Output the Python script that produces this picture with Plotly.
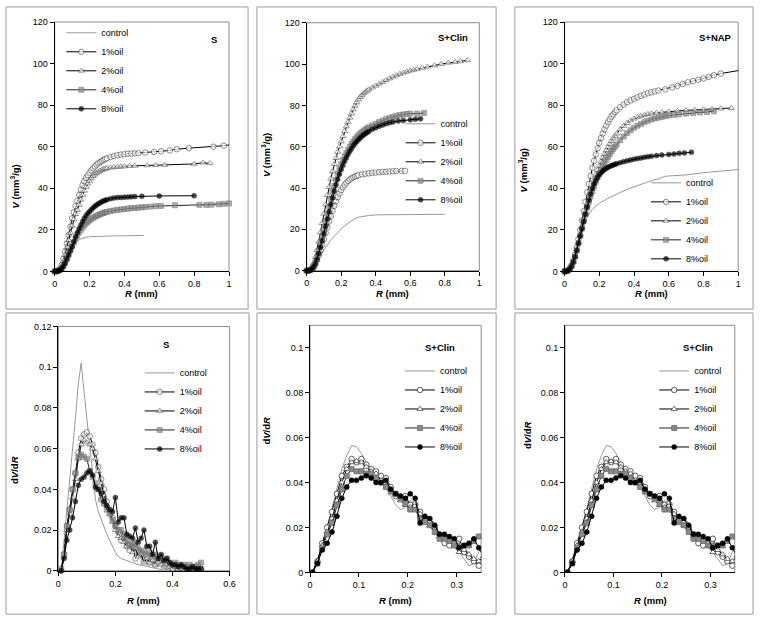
import plotly.graph_objects as go
from plotly.subplots import make_subplots

W, H = 762, 624
FONT = "Liberation Sans, Arial, sans-serif"
SERIES = ["control", "1%oil", "2%oil", "4%oil", "8%oil"]

# ---------------- Panel 1 : S  (V vs R) ----------------
S_ctrl_R = [0, 0.02, 0.04, 0.06, 0.08, 0.1, 0.12, 0.14, 0.16, 0.18, 0.2, 0.25, 0.3, 0.35, 0.4, 0.45, 0.51]
S_ctrl_V = [0, 0.2, 1.5, 4.5, 8, 11.2, 13.8, 15.3, 16.1, 16.5, 16.7, 16.9, 17, 17.1, 17.1, 17.2, 17.3]
S_1_R = [0, 0.01, 0.02, 0.03, 0.04, 0.05, 0.06, 0.07, 0.08, 0.09, 0.1, 0.11, 0.12, 0.13, 0.14, 0.15, 0.16,
         0.17, 0.18, 0.19, 0.2, 0.21, 0.22, 0.23, 0.24, 0.25, 0.26, 0.27, 0.28, 0.29, 0.3, 0.32, 0.34, 0.36,
         0.38, 0.4, 0.42, 0.44, 0.46, 0.48, 0.52, 0.57, 0.61, 0.66, 0.7, 0.77, 0.91, 0.97, 1.02]
S_1_V = [0, 0.1, 0.4, 1.2, 3, 6, 9.5, 13.5, 17.5, 21.5, 25.5, 28.5, 31.5, 34, 36.8, 39.3, 41.5, 43.4, 45,
         46.3, 47.5, 48.6, 49.6, 50.5, 51.3, 52, 52.6, 53.1, 53.6, 54, 54.4, 55, 55.5, 55.9, 56.2, 56.4,
         56.6, 56.7, 56.8, 56.9, 57.2, 57.5, 57.8, 58.2, 58.8, 59.3, 60, 60.5, 61]
S_2_R = [0, 0.01, 0.02, 0.03, 0.04, 0.05, 0.06, 0.07, 0.08, 0.09, 0.1, 0.11, 0.12, 0.13, 0.14, 0.15, 0.16,
         0.17, 0.18, 0.19, 0.2, 0.21, 0.22, 0.23, 0.24, 0.25, 0.26, 0.27, 0.28, 0.29, 0.3, 0.32, 0.34, 0.36,
         0.38, 0.4, 0.43, 0.46, 0.53, 0.58, 0.63, 0.8, 0.85, 0.89]
S_2_V = [0, 0.1, 0.3, 1, 2.5, 5, 8, 11.5, 15, 18.5, 22, 25, 27.5, 29.5, 32, 34.5, 36.8, 38.8, 40.6, 42.2,
         43.6, 44.8, 45.8, 46.6, 47.3, 47.9, 48.4, 48.8, 49.1, 49.4, 49.6, 49.9, 50.1, 50.3, 50.4, 50.5,
         50.7, 50.8, 51, 51.1, 51.2, 51.7, 52.3, 52]
S_4_R = [0, 0.01, 0.02, 0.03, 0.04, 0.05, 0.06, 0.07, 0.08, 0.09, 0.1, 0.11, 0.12, 0.13, 0.14, 0.15, 0.16,
         0.17, 0.18, 0.19, 0.2, 0.21, 0.22, 0.23, 0.24, 0.25, 0.26, 0.27, 0.28, 0.29, 0.3, 0.32, 0.34, 0.36,
         0.38, 0.4, 0.42, 0.44, 0.46, 0.48, 0.5, 0.52, 0.55, 0.58, 0.61, 0.69, 0.83, 0.87, 0.9, 0.94, 0.97, 1.0]
S_4_V = [0, 0, 0.2, 0.6, 1.3, 2.5, 4, 6, 8, 10, 12, 14, 15.8, 17.4, 18.8, 20, 21.2, 22.2, 23.1, 23.9,
         24.6, 25.2, 25.8, 26.3, 26.7, 27.1, 27.5, 27.8, 28.1, 28.4, 28.6, 29, 29.3, 29.6, 29.8, 30, 30.2,
         30.4, 30.5, 30.7, 30.8, 31, 31.2, 31.4, 31.5, 31.8, 32, 32, 32.1, 32.3, 32.5, 32.7]
S_8_R = [0, 0.01, 0.02, 0.03, 0.04, 0.05, 0.06, 0.07, 0.08, 0.09, 0.1, 0.11, 0.12, 0.13, 0.14, 0.15, 0.16,
         0.17, 0.18, 0.19, 0.2, 0.21, 0.22, 0.23, 0.24, 0.25, 0.26, 0.27, 0.28, 0.29, 0.3, 0.32, 0.34, 0.36,
         0.38, 0.4, 0.42, 0.44, 0.46, 0.5, 0.6, 0.8]
S_8_V = [0, 0, 0.2, 0.6, 1.3, 2.5, 4, 6, 8, 10, 12, 14.3, 16.5, 18.6, 20.5, 22.3, 24, 25.5, 26.8, 27.9,
         28.8, 29.7, 30.5, 31.3, 31.9, 32.5, 33, 33.5, 33.9, 34.2, 34.5, 35, 35.3, 35.5, 35.6, 35.7, 35.8,
         35.9, 36, 36.1, 36.3, 36.4]

# ---------------- Panel 2 : S+Clin (V vs R) ----------------
C_ctrl_R = [0, 0.02, 0.04, 0.06, 0.08, 0.1, 0.12, 0.14, 0.16, 0.18, 0.2, 0.22, 0.24, 0.26, 0.28, 0.3,
            0.33, 0.36, 0.4, 0.5, 0.6, 0.7, 0.8]
C_ctrl_V = [0, 0.3, 1.5, 4, 7, 10, 12.5, 14.8, 16.8, 18.6, 20.2, 21.7, 23, 24.2, 25.2, 25.9, 26.4, 26.7,
            27, 27.1, 27.2, 27.2, 27.3]
C_1_R = [0, 0.01, 0.02, 0.03, 0.04, 0.05, 0.06, 0.07, 0.08, 0.09, 0.1, 0.11, 0.12, 0.13, 0.14, 0.15, 0.16,
         0.17, 0.18, 0.19, 0.2, 0.21, 0.22, 0.23, 0.24, 0.25, 0.26, 0.27, 0.28, 0.29, 0.3, 0.32, 0.34, 0.36,
         0.38, 0.4, 0.42, 0.44, 0.46, 0.48, 0.5, 0.52, 0.55, 0.57]
C_1_V = [0, 0, 0.2, 0.7, 1.6, 3, 5, 7.3, 9.8, 12.5, 15.3, 18.2, 21, 23.8, 26.5, 29, 31.4, 33.6, 35.6,
         37.4, 39, 40.4, 41.6, 42.6, 43.4, 44.1, 44.7, 45.2, 45.6, 45.9, 46.2, 46.6, 46.9, 47.1, 47.3,
         47.5, 47.6, 47.8, 47.9, 48, 48.1, 48.2, 48.3, 48.3]
C_2_R = [0, 0.01, 0.02, 0.03, 0.04, 0.05, 0.06, 0.07, 0.08, 0.09, 0.1, 0.11, 0.12, 0.13, 0.14, 0.15, 0.16,
         0.17, 0.18, 0.19, 0.2, 0.21, 0.22, 0.23, 0.24, 0.25, 0.26, 0.27, 0.28, 0.29, 0.3, 0.31, 0.32, 0.33,
         0.34, 0.35, 0.36, 0.38, 0.4, 0.42, 0.44, 0.46, 0.48, 0.5, 0.52, 0.54, 0.56, 0.58, 0.6, 0.62, 0.64,
         0.67, 0.7, 0.74, 0.78, 0.82, 0.86, 0.89, 0.93]
C_2_V = [0, 0.1, 0.5, 1.5, 3.5, 6.5, 10, 14, 18.5, 23, 27.5, 32, 36.5, 40.5, 44.5, 48, 51.5, 54.5, 57.5,
         60, 62.5, 65, 67.5, 69.8, 72, 74, 76, 78, 79.8, 81.4, 82.8, 84, 85, 85.8, 86.5, 87.1, 87.7, 88.6,
         89.5, 90.4, 91.3, 92.2, 93, 93.8, 94.5, 95.2, 95.8, 96.3, 96.8, 97.2, 97.6, 98.2, 98.7, 99.3, 100,
         100.6, 101, 101.3, 101.8]
C_4_R = [0, 0.01, 0.02, 0.03, 0.04, 0.05, 0.06, 0.07, 0.08, 0.09, 0.1, 0.11, 0.12, 0.13, 0.14, 0.15, 0.16,
         0.17, 0.18, 0.19, 0.2, 0.21, 0.22, 0.23, 0.24, 0.25, 0.26, 0.27, 0.28, 0.29, 0.3, 0.31, 0.32, 0.33,
         0.34, 0.35, 0.36, 0.38, 0.4, 0.42, 0.44, 0.46, 0.48, 0.5, 0.52, 0.54, 0.56, 0.58, 0.6, 0.64, 0.68]
C_4_V = [0, 0.1, 0.3, 1, 2.2, 4, 6.5, 9.5, 13, 16.5, 20, 24, 27.5, 31, 34.5, 38, 41, 44, 46.8, 49.3, 51.5,
         53.5, 55.3, 57, 58.5, 60, 61.3, 62.5, 63.6, 64.6, 65.5, 66.3, 67, 67.7, 68.3, 68.9, 69.4, 70.3,
         71.1, 71.9, 72.6, 73.3, 73.9, 74.4, 74.9, 75.3, 75.6, 75.8, 76, 76, 76.3]
C_8_R = [0, 0.01, 0.02, 0.03, 0.04, 0.05, 0.06, 0.07, 0.08, 0.09, 0.1, 0.11, 0.12, 0.13, 0.14, 0.15, 0.16,
         0.17, 0.18, 0.19, 0.2, 0.21, 0.22, 0.23, 0.24, 0.25, 0.26, 0.27, 0.28, 0.29, 0.3, 0.31, 0.32, 0.33,
         0.34, 0.35, 0.36, 0.38, 0.4, 0.42, 0.44, 0.46, 0.48, 0.5, 0.53, 0.56, 0.6, 0.63, 0.66]
C_8_V = [0, 0, 0.2, 0.8, 1.8, 3.3, 5.5, 8.2, 11.3, 14.5, 18, 21.5, 25, 28.5, 32, 35.3, 38.5, 41.5, 44.2,
         46.7, 49, 51, 53, 54.7, 56.3, 57.8, 59.1, 60.4, 61.5, 62.5, 63.4, 64.2, 65, 65.7, 66.3, 66.9, 67.4,
         68.4, 69.2, 69.9, 70.5, 71.1, 71.6, 72, 72.4, 72.7, 73, 73.3, 73.5]

# ---------------- Panel 3 : S+NAP (V vs R) ----------------
N_ctrl_R = [0, 0.02, 0.04, 0.06, 0.08, 0.1, 0.12, 0.14, 0.16, 0.18, 0.2, 0.25, 0.3, 0.35, 0.4, 0.45, 0.5,
            0.55, 0.58, 0.62, 0.7, 0.8, 0.9, 1.0]
N_ctrl_V = [0, 0.4, 2.5, 7, 13, 19, 24, 27.5, 29.8, 31.4, 32.7, 35.2, 37.3, 39.1, 40.7, 42.2, 43.6, 44.8,
            45.8, 46, 46.4, 47.5, 48.3, 49]
N_1_R = [0, 0.01, 0.02, 0.03, 0.04, 0.05, 0.06, 0.07, 0.08, 0.09, 0.1, 0.11, 0.12, 0.13, 0.14, 0.15, 0.16,
         0.17, 0.18, 0.19, 0.2, 0.21, 0.22, 0.23, 0.24, 0.25, 0.26, 0.27, 0.28, 0.29, 0.3, 0.32, 0.34, 0.36,
         0.38, 0.4, 0.42, 0.44, 0.46, 0.48, 0.5, 0.52, 0.54, 0.58, 0.62, 0.65, 0.68, 0.71, 0.74, 0.77, 0.8,
         0.83, 0.86, 0.9, 1.04]
N_1_V = [0, 0.1, 0.4, 1.2, 2.8, 5, 8, 11.5, 15.5, 20, 24.5, 29, 33.5, 38, 42, 46, 49.8, 53.2, 56.3, 59.2,
         61.8, 64.2, 66.4, 68.4, 70.2, 71.8, 73.2, 74.5, 75.6, 76.6, 77.5, 79, 80.3, 81.4, 82.3, 83.1, 83.8,
         84.5, 85.1, 85.7, 86.2, 86.6, 87, 87.6, 88.5, 89.3, 90.2, 91, 91.6, 92.2, 92.8, 93.6, 94.4, 95.2,
         97.2]
N_2_R = [0, 0.01, 0.02, 0.03, 0.04, 0.05, 0.06, 0.07, 0.08, 0.09, 0.1, 0.11, 0.12, 0.13, 0.14, 0.15, 0.16,
         0.17, 0.18, 0.19, 0.2, 0.21, 0.22, 0.23, 0.24, 0.25, 0.26, 0.27, 0.28, 0.29, 0.3, 0.32, 0.34, 0.36,
         0.38, 0.4, 0.42, 0.44, 0.46, 0.48, 0.5, 0.53, 0.56, 0.6, 0.65, 0.7, 0.75, 0.8, 0.85, 0.9, 0.96]
N_2_V = [0, 0.1, 0.4, 1.2, 2.6, 4.6, 7.3, 10.5, 14, 17.7, 21.3, 25, 28.5, 32, 35.2, 38.3, 41.2, 43.9, 46.4,
         48.7, 50.8, 52.8, 54.7, 56.5, 58.2, 59.8, 61.3, 62.7, 64, 65.2, 66.3, 68.3, 70, 71.4, 72.6, 73.5,
         74.2, 74.8, 75.3, 75.7, 76, 76.3, 76.6, 76.9, 77.2, 77.5, 77.7, 77.9, 78.1, 78.3, 78.6]
N_4_R = [0, 0.01, 0.02, 0.03, 0.04, 0.05, 0.06, 0.07, 0.08, 0.09, 0.1, 0.11, 0.12, 0.13, 0.14, 0.15, 0.16,
         0.17, 0.18, 0.19, 0.2, 0.21, 0.22, 0.23, 0.24, 0.25, 0.26, 0.27, 0.28, 0.29, 0.3, 0.32, 0.34, 0.36,
         0.38, 0.4, 0.42, 0.44, 0.46, 0.48, 0.5, 0.52, 0.54, 0.56, 0.58, 0.6, 0.63, 0.66, 0.7, 0.74, 0.78,
         0.82, 0.86]
N_4_V = [0, 0.1, 0.4, 1.2, 2.6, 4.5, 7.1, 10.2, 13.6, 17.2, 20.7, 24.2, 27.5, 30.6, 33.5, 36.2, 38.7, 41,
         43.2, 45.2, 47.1, 48.9, 50.6, 52.2, 53.7, 55.1, 56.4, 57.7, 58.9, 60, 61.1, 63.1, 64.9, 66.5, 67.9,
         69.1, 70.1, 71, 71.8, 72.5, 73.1, 73.6, 74, 74.4, 74.7, 75, 75.3, 75.6, 75.9, 76.2, 76.5, 76.7, 77]
N_8_R = [0, 0.01, 0.02, 0.03, 0.04, 0.05, 0.06, 0.07, 0.08, 0.09, 0.1, 0.11, 0.12, 0.13, 0.14, 0.15, 0.16,
         0.17, 0.18, 0.19, 0.2, 0.21, 0.22, 0.23, 0.24, 0.25, 0.26, 0.27, 0.28, 0.29, 0.3, 0.32, 0.34, 0.36,
         0.38, 0.4, 0.42, 0.44, 0.46, 0.48, 0.5, 0.53, 0.56, 0.6, 0.63, 0.66, 0.69, 0.73]
N_8_V = [0, 0.1, 0.4, 1.2, 2.5, 4.5, 7, 10, 13.5, 17, 20.5, 24, 27.5, 31, 34.2, 37.2, 39.8, 42, 43.8, 45.3,
         46.5, 47.5, 48.3, 49, 49.6, 50.1, 50.5, 50.9, 51.2, 51.5, 51.8, 52.3, 52.8, 53.2, 53.6, 54, 54.3,
         54.6, 54.9, 55.2, 55.4, 55.7, 56, 56.3, 56.5, 56.8, 57, 57.3]

# ---------------- Panel 4 : S (dV/dR vs R) ----------------
D_ctrl_R = [0.01, 0.02, 0.03, 0.04, 0.05, 0.06, 0.07, 0.08, 0.09, 0.1, 0.11, 0.12, 0.13, 0.14, 0.15, 0.16,
            0.17, 0.18, 0.19, 0.2, 0.21, 0.22, 0.24, 0.26, 0.28, 0.3, 0.32, 0.34, 0.36, 0.38, 0.4]
D_ctrl_V = [0, 0.015, 0.03, 0.045, 0.058, 0.075, 0.092, 0.102, 0.088, 0.075, 0.063, 0.048, 0.035, 0.029,
            0.025, 0.021, 0.018, 0.015, 0.012, 0.009, 0.007, 0.006, 0.005, 0.004, 0.003, 0.0025, 0.002,
            0.0012, 0.0006, 0.0003, 0.0001]
D_R = [0.01, 0.02, 0.03, 0.04, 0.05, 0.06, 0.07, 0.08, 0.09, 0.1, 0.11, 0.12, 0.13, 0.14, 0.15, 0.16, 0.17,
       0.18, 0.19, 0.2, 0.21, 0.22, 0.23, 0.24, 0.25, 0.26, 0.27, 0.28, 0.29, 0.3, 0.31, 0.32, 0.33, 0.34,
       0.35, 0.36, 0.37, 0.38, 0.39, 0.4, 0.41, 0.42, 0.43, 0.44, 0.45, 0.46, 0.47, 0.48, 0.49, 0.5]
D_1_V = [0, 0.008, 0.022, 0.03, 0.04, 0.048, 0.058, 0.065, 0.067, 0.068, 0.066, 0.062, 0.058, 0.051, 0.045,
         0.04, 0.034, 0.03, 0.026, 0.022, 0.019, 0.015, 0.018, 0.012, 0.01, 0.013, 0.006, 0.01, 0.008, 0.005,
         0.007, 0.004, 0.006, 0.003, 0.004, 0.005, 0.003, 0.002, 0.004, 0.001, 0.002, 0.001, 0.002, 0.001,
         0.002, 0.001, 0.001, 0.002, 0.001, 0.001]
D_2_V = [0, 0.007, 0.02, 0.028, 0.036, 0.045, 0.055, 0.062, 0.064, 0.063, 0.062, 0.06, 0.055, 0.049, 0.043,
         0.037, 0.032, 0.028, 0.024, 0.02, 0.017, 0.016, 0.014, 0.012, 0.013, 0.009, 0.011, 0.007, 0.008,
         0.004, 0.006, 0.004, 0.005, 0.003, 0.004, 0.003, 0.002, 0.003, 0.002, 0.001, 0.002, 0.001, 0.001,
         0.002, 0.001, 0.001, 0.001, 0.001, 0.001, 0.001]
D_4_V = [0.001, 0.008, 0.022, 0.03, 0.04, 0.048, 0.056, 0.057, 0.056, 0.055, 0.049, 0.046, 0.043, 0.04,
         0.035, 0.033, 0.03, 0.028, 0.025, 0.022, 0.02, 0.02, 0.017, 0.015, 0.013, 0.012, 0.014, 0.011,
         0.009, 0.01, 0.008, 0.009, 0.007, 0.008, 0.006, 0.007, 0.005, 0.006, 0.004, 0.003, 0.004, 0.003,
         0.002, 0.003, 0.002, 0.003, 0.002, 0.002, 0.003, 0.004]
D_8_V = [0, 0.006, 0.015, 0.02, 0.026, 0.034, 0.042, 0.045, 0.046, 0.048, 0.049, 0.047, 0.041, 0.04, 0.038,
         0.034, 0.032, 0.03, 0.029, 0.036, 0.024, 0.026, 0.026, 0.018, 0.017, 0.016, 0.021, 0.014, 0.016,
         0.02, 0.012, 0.012, 0.008, 0.014, 0.006, 0.008, 0.005, 0.006, 0.004, 0.003, 0.003, 0.002, 0.003,
         0.002, 0.001, 0.001, 0.002, 0.001, 0.001, 0.001]

# ---------------- Panels 5 & 6 : S+Clin (dV/dR vs R) ----------------
E_R = [0.005, 0.015, 0.025, 0.035, 0.045, 0.055, 0.065, 0.075, 0.085, 0.095, 0.105, 0.115, 0.125, 0.135,
       0.145, 0.155, 0.165, 0.175, 0.185, 0.195, 0.205, 0.215, 0.225, 0.235, 0.245, 0.255, 0.265, 0.275,
       0.285, 0.295, 0.305, 0.315, 0.325, 0.335, 0.345, 0.355]
E_ctrl = [0, 0.006, 0.012, 0.02, 0.029, 0.038, 0.046, 0.052, 0.0565, 0.056, 0.053, 0.049, 0.046, 0.044,
          0.042, 0.039, 0.034, 0.03, 0.028, 0.029, 0.032, 0.031, 0.026, 0.023, 0.024, 0.022, 0.017, 0.014,
          0.013, 0.011, 0.009, 0.006, 0.003, 0.004, 0.009, 0.013]
E_1 = [0, 0.005, 0.013, 0.02, 0.027, 0.035, 0.043, 0.047, 0.0505, 0.049, 0.0505, 0.048, 0.046, 0.045, 0.043,
       0.042, 0.038, 0.034, 0.033, 0.034, 0.03, 0.03, 0.027, 0.024, 0.022, 0.02, 0.017, 0.013, 0.012, 0.013,
       0.015, 0.009, 0.007, 0.005, 0.003, 0.004]
E_2 = [0, 0.005, 0.012, 0.018, 0.024, 0.032, 0.04, 0.046, 0.049, 0.0495, 0.049, 0.047, 0.045, 0.044, 0.041,
       0.04, 0.037, 0.035, 0.032, 0.03, 0.029, 0.031, 0.026, 0.022, 0.021, 0.02, 0.016, 0.015, 0.014, 0.012,
       0.009, 0.01, 0.008, 0.006, 0.005, 0.007]
E_4 = [0, 0.004, 0.011, 0.017, 0.022, 0.03, 0.037, 0.043, 0.046, 0.045, 0.045, 0.044, 0.044, 0.042, 0.04,
       0.038, 0.036, 0.035, 0.033, 0.031, 0.028, 0.028, 0.024, 0.023, 0.021, 0.018, 0.015, 0.015, 0.014,
       0.012, 0.012, 0.012, 0.012, 0.014, 0.016, 0.016]
E_8 = [0, 0.004, 0.01, 0.013, 0.018, 0.025, 0.033, 0.038, 0.041, 0.041, 0.042, 0.043, 0.042, 0.04, 0.04,
       0.041, 0.037, 0.035, 0.034, 0.033, 0.035, 0.033, 0.022, 0.025, 0.024, 0.021, 0.017, 0.017, 0.016,
       0.015, 0.011, 0.012, 0.013, 0.015, 0.011, 0.007]

PANEL_TITLES = ["S", "S+Clin", "S+NAP", "S", "S+Clin", "S+Clin"]


def px_x(p):
    return p / W


def px_y(p):
    return 1 - p / H


STYLES = {
    "control": dict(mode="lines", line=dict(color="#8c8c8c", width=0.9)),
    "1%oil": dict(mode="lines+markers", line=dict(color="#000000", width=1),
                  marker=dict(symbol="circle", size=5.5, color="white", line=dict(color="#333333", width=0.8))),
    "2%oil": dict(mode="lines+markers", line=dict(color="#000000", width=1),
                  marker=dict(symbol="triangle-up", size=5.5, color="white", line=dict(color="#444444", width=0.8))),
    "4%oil": dict(mode="lines+markers", line=dict(color="#222222", width=1),
                  marker=dict(symbol="square", size=5, color="#8a8a8a", line=dict(color="#6a6a6a", width=0.8))),
    "8%oil": dict(mode="lines+markers", line=dict(color="#000000", width=1),
                  marker=dict(symbol="circle", size=5, color="#000000", line=dict(color="#000000", width=0.5))),
}

panel_data = [
    [(S_ctrl_R, S_ctrl_V), (S_1_R, S_1_V), (S_2_R, S_2_V), (S_4_R, S_4_V), (S_8_R, S_8_V)],
    [(C_ctrl_R, C_ctrl_V), (C_1_R, C_1_V), (C_2_R, C_2_V), (C_4_R, C_4_V), (C_8_R, C_8_V)],
    [(N_ctrl_R, N_ctrl_V), (N_1_R, N_1_V), (N_2_R, N_2_V), (N_4_R, N_4_V), (N_8_R, N_8_V)],
    [(D_ctrl_R, D_ctrl_V), (D_R, D_1_V), (D_R, D_2_V), (D_R, D_4_V), (D_R, D_8_V)],
    [(E_R, E_ctrl), (E_R, E_1), (E_R, E_2), (E_R, E_4), (E_R, E_8)],
    [(E_R, E_ctrl), (E_R, E_1), (E_R, E_2), (E_R, E_4), (E_R, E_8)],
]

# plot-area pixel boxes (left, right, top, bottom)
plot_px = [
    (52.3, 228.7, 17.3, 270.7),
    (307.3, 482.0, 18.0, 270.0),
    (568.3, 744.0, 17.3, 270.7),
    (56.0, 229.3, 326.7, 575.0),
    (310.7, 483.9, 325.5, 576.7),
    (568.7, 740.5, 325.5, 576.7),
]
x_ranges = [[0, 1], [0, 1], [0, 1], [0, 0.6], [0, 0.35], [0, 0.35]]
y_ranges = [[0, 120], [0, 120], [0, 120], [0, 0.12], [0, 0.11], [0, 0.11]]
x_dticks = [0.2, 0.2, 0.2, 0.2, 0.1, 0.1]
y_dticks = [20, 20, 20, 0.02, 0.02, 0.02]

fig = make_subplots(rows=2, cols=3)

for i, series in enumerate(panel_data):
    row, col = i // 3 + 1, i % 3 + 1
    xmax = x_ranges[i][1]
    clip = i >= 4
    lg = "legend" if i == 0 else f"legend{i + 1}"
    for name, (xs, ys) in zip(SERIES, series):
        st = STYLES[name]
        kw = dict(x=xs, y=ys, name=name, mode=st["mode"], line=st["line"], legend=lg,
                  cliponaxis=clip, showlegend=True)
        if "marker" in st:
            m = dict(st["marker"])
            if not clip:
                m["size"] = [m["size"] if x <= xmax + 1e-9 else 0 for x in xs]
            kw["marker"] = m
        fig.add_trace(go.Scatter(**kw), row=row, col=col)

axis_common = dict(showgrid=False, zeroline=False, showline=True, linecolor="#000000", linewidth=1,
                   ticks="outside", ticklen=4, tickwidth=1, tickcolor="#000000",
                   tickfont=dict(family=FONT, size=9, color="#000000"))

for i in range(6):
    l, r, t, b = plot_px[i]
    xa = "xaxis" if i == 0 else f"xaxis{i + 1}"
    ya = "yaxis" if i == 0 else f"yaxis{i + 1}"
    fig.layout[xa].update(domain=[px_x(l), px_x(r)], range=x_ranges[i], dtick=x_dticks[i], tick0=0,
                          **axis_common)
    fig.layout[ya].update(domain=[px_y(b), px_y(t)], range=y_ranges[i], dtick=y_dticks[i], tick0=0,
                          **axis_common)

shapes = []
# plot-area frames
for i in range(6):
    xr = "x" if i == 0 else f"x{i + 1}"
    yr = "y" if i == 0 else f"y{i + 1}"
    shapes.append(dict(type="rect", xref=f"{xr} domain", yref=f"{yr} domain", x0=0, x1=1, y0=0, y1=1,
                       line=dict(color="#8c8c8c", width=1), layer="below"))
# outer panel boxes
box_px = [(3, 248, 2, 309), (257, 499, 2, 309), (518, 759, 2, 309),
          (3, 249, 313, 619), (257, 499, 313, 619), (518, 759, 313, 619)]
for (l, r, t, b) in box_px:
    shapes.append(dict(type="rect", xref="paper", yref="paper", x0=px_x(l), x1=px_x(r),
                       y0=px_y(b), y1=px_y(t), line=dict(color="#9a9a9a", width=1)))

ann = []
tfont = dict(family=FONT, size=9.5, color="#000000")
ytitle_pos = [(11.7, 185), (265.7, 153), (526.3, 168), (11.7, 473), (265.7, 433), (531.3, 437)]
xtitle_pos = [(140.5, 293), (394.5, 293), (656.3, 293), (142.5, 605), (397.3, 605), (655, 605)]
label_pos = [(213.3, 35), (455.7, 33.3), (721.3, 33.3), (165, 345), (442.3, 348.3), (703, 348.3)]
for i in range(6):
    ytxt = "<b><i>V</i> (mm<sup>3</sup>/g)</b>" if i < 3 else "<b>d<i>V</i>/d<i>R</i></b>"
    ann.append(dict(text=ytxt, x=px_x(ytitle_pos[i][0]), y=px_y(ytitle_pos[i][1]), xref="paper",
                    yref="paper", textangle=-90, showarrow=False, xanchor="center", yanchor="middle",
                    font=tfont))
    ann.append(dict(text="<b><i>R</i> (mm)</b>", x=px_x(xtitle_pos[i][0]), y=px_y(xtitle_pos[i][1]),
                    xref="paper", yref="paper", showarrow=False, xanchor="center", yanchor="middle",
                    font=tfont))
    ann.append(dict(text=f"<b>{PANEL_TITLES[i]}</b>", x=px_x(label_pos[i][0]), y=px_y(label_pos[i][1]),
                    xref="paper", yref="paper", showarrow=False, xanchor="center", yanchor="middle",
                    font=tfont))

# legends: (x of legend left, top) in px
legend_px = [(59, 13.5), (402.3, 106), (650.7, 166), (138.3, 359.2), (401.7, 357.2), (659, 357.2)]
legend_layout = {}
for i, (lx, ly) in enumerate(legend_px):
    key = "legend" if i == 0 else f"legend{i + 1}"
    legend_layout[key] = dict(x=px_x(lx), y=px_y(ly), xanchor="left", yanchor="top",
                              bgcolor="rgba(0,0,0,0)", borderwidth=0, itemwidth=30,
                              font=dict(family=FONT, size=9, color="#000000"))

fig.update_layout(width=W, height=H, autosize=False, margin=dict(l=0, r=0, t=0, b=0),
                  paper_bgcolor="white", plot_bgcolor="white", shapes=shapes, annotations=ann,
                  font=dict(family=FONT, size=9, color="#000000"), **legend_layout)

# remove the browser's default 8px body margin so the figure sits at the page origin
fig.write_html("out.html", config={"displayModeBar": False},
               post_script="document.body.style.margin='0px';"
                           "document.body.style.overflow='hidden';")
